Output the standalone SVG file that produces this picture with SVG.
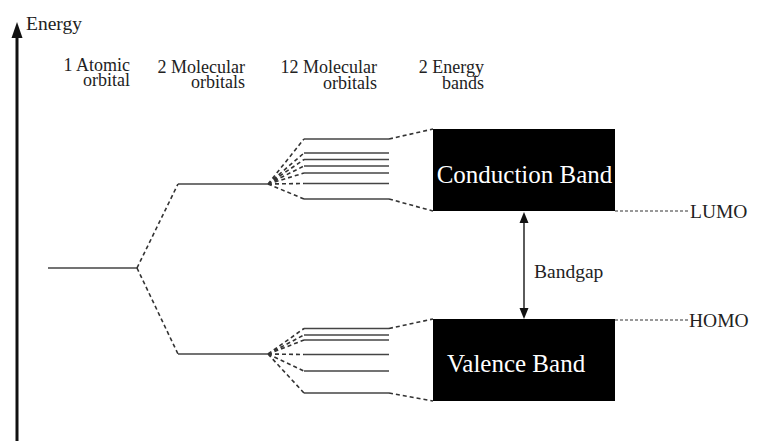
<svg xmlns="http://www.w3.org/2000/svg" width="758" height="441" viewBox="0 0 758 441" font-family="'Liberation Serif', 'Times New Roman', serif">
<style>
text{font-family:'Liberation Serif','Times New Roman',serif;fill:#222}
.lbl{font-size:18px;text-anchor:end}
.lvl{stroke:#444;stroke-width:1.6;fill:none}
.dash{stroke:#333;stroke-width:1.6;fill:none;stroke-dasharray:4 3}
.dash2{stroke:#333;stroke-width:1.2;fill:none;stroke-dasharray:3 2}
.band{fill:#000}
.bt{fill:#fff;font-size:25px}
.ar{fill:#111}
</style>
<rect width="758" height="441" fill="#fff"/>
<g id="axis">
<line x1="17" y1="441" x2="17" y2="34" stroke="#111" stroke-width="3"/>
<polygon class="ar" points="17,22 11.5,38 22.5,38"/>
<text x="26" y="30" font-size="19.5">Energy</text>
</g>
<g id="headers">
<text class="lbl" x="130" y="71">1 Atomic<tspan x="130" y="86">orbital</tspan></text>
<text class="lbl" x="245" y="73">2 Molecular<tspan x="245" y="88">orbitals</tspan></text>
<text class="lbl" x="377" y="73">12 Molecular<tspan x="377" y="89">orbitals</tspan></text>
<text class="lbl" x="484" y="73">2 Energy<tspan x="484" y="89">bands</tspan></text>
</g>
<g id="atomic-orbital"><line class="lvl" x1="48" y1="268" x2="137" y2="268"/></g>
<g id="mo-upper"><line class="lvl" x1="178" y1="184" x2="268" y2="184"/></g>
<g id="mo-lower"><line class="lvl" x1="178" y1="354" x2="268" y2="354"/></g>
<g id="upper-levels">
<line class="lvl" x1="304" y1="139" x2="389" y2="139"/>
<line class="lvl" x1="304" y1="153" x2="389" y2="153"/>
<line class="lvl" x1="304" y1="159.5" x2="389" y2="159.5"/>
<line class="lvl" x1="304" y1="166" x2="389" y2="166"/>
<line class="lvl" x1="304" y1="173" x2="389" y2="173"/>
<line class="lvl" x1="304" y1="183.5" x2="389" y2="183.5"/>
<line class="lvl" x1="304" y1="199" x2="389" y2="199"/>
</g>
<g id="lower-levels">
<line class="lvl" x1="304" y1="328.5" x2="389" y2="328.5"/>
<line class="lvl" x1="304" y1="335" x2="389" y2="335"/>
<line class="lvl" x1="304" y1="340" x2="389" y2="340"/>
<line class="lvl" x1="304" y1="354.5" x2="389" y2="354.5"/>
<line class="lvl" x1="304" y1="371" x2="389" y2="371"/>
<line class="lvl" x1="304" y1="393" x2="389" y2="393"/>
</g>
<g id="conduction-band">
<rect class="band" x="433" y="129" width="182" height="82"/>
<text class="bt" x="524.5" y="183" text-anchor="middle">Conduction Band</text>
</g>
<g id="valence-band">
<rect class="band" x="433" y="319" width="182" height="82"/>
<text class="bt" x="447" y="372" font-size="24.5">Valence Band</text>
</g>
<g id="lumo"><text x="690" y="218" font-size="19.5">LUMO</text></g>
<g id="homo"><text x="689" y="327" font-size="19.5">HOMO</text></g>
<g id="bandgap"><text x="534" y="278" font-size="19.5">Bandgap</text></g>
<g id="connectors">
<path class="dash" d="M137,268 L178,184 M137,268 L178,354"/>
<path class="dash" d="M268,184 L304,139 M268,184 L304,153 M268,184 L304,159.5 M268,184 L304,166 M268,184 L304,173 M268,184 L304,183.5 M268,184 L304,199"/>
<path class="dash" d="M268,354 L304,328.5 M268,354 L304,335 M268,354 L304,340 M268,354 L304,354.5 M268,354 L304,371 M268,354 L304,393"/>
<path class="dash" d="M389,139 L433,129 M389,199 L433,211 M389,328.5 L433,319 M389,393 L433,401"/>
<path class="dash2" d="M615,211 L688,211 M615,320 L688,320"/>
<line x1="524" y1="220" x2="524" y2="311" stroke="#333" stroke-width="1.6"/>
<polygon class="ar" points="524,212 519.5,223 528.5,223"/>
<polygon class="ar" points="524,319 519.5,308 528.5,308"/>
</g>
</svg>
